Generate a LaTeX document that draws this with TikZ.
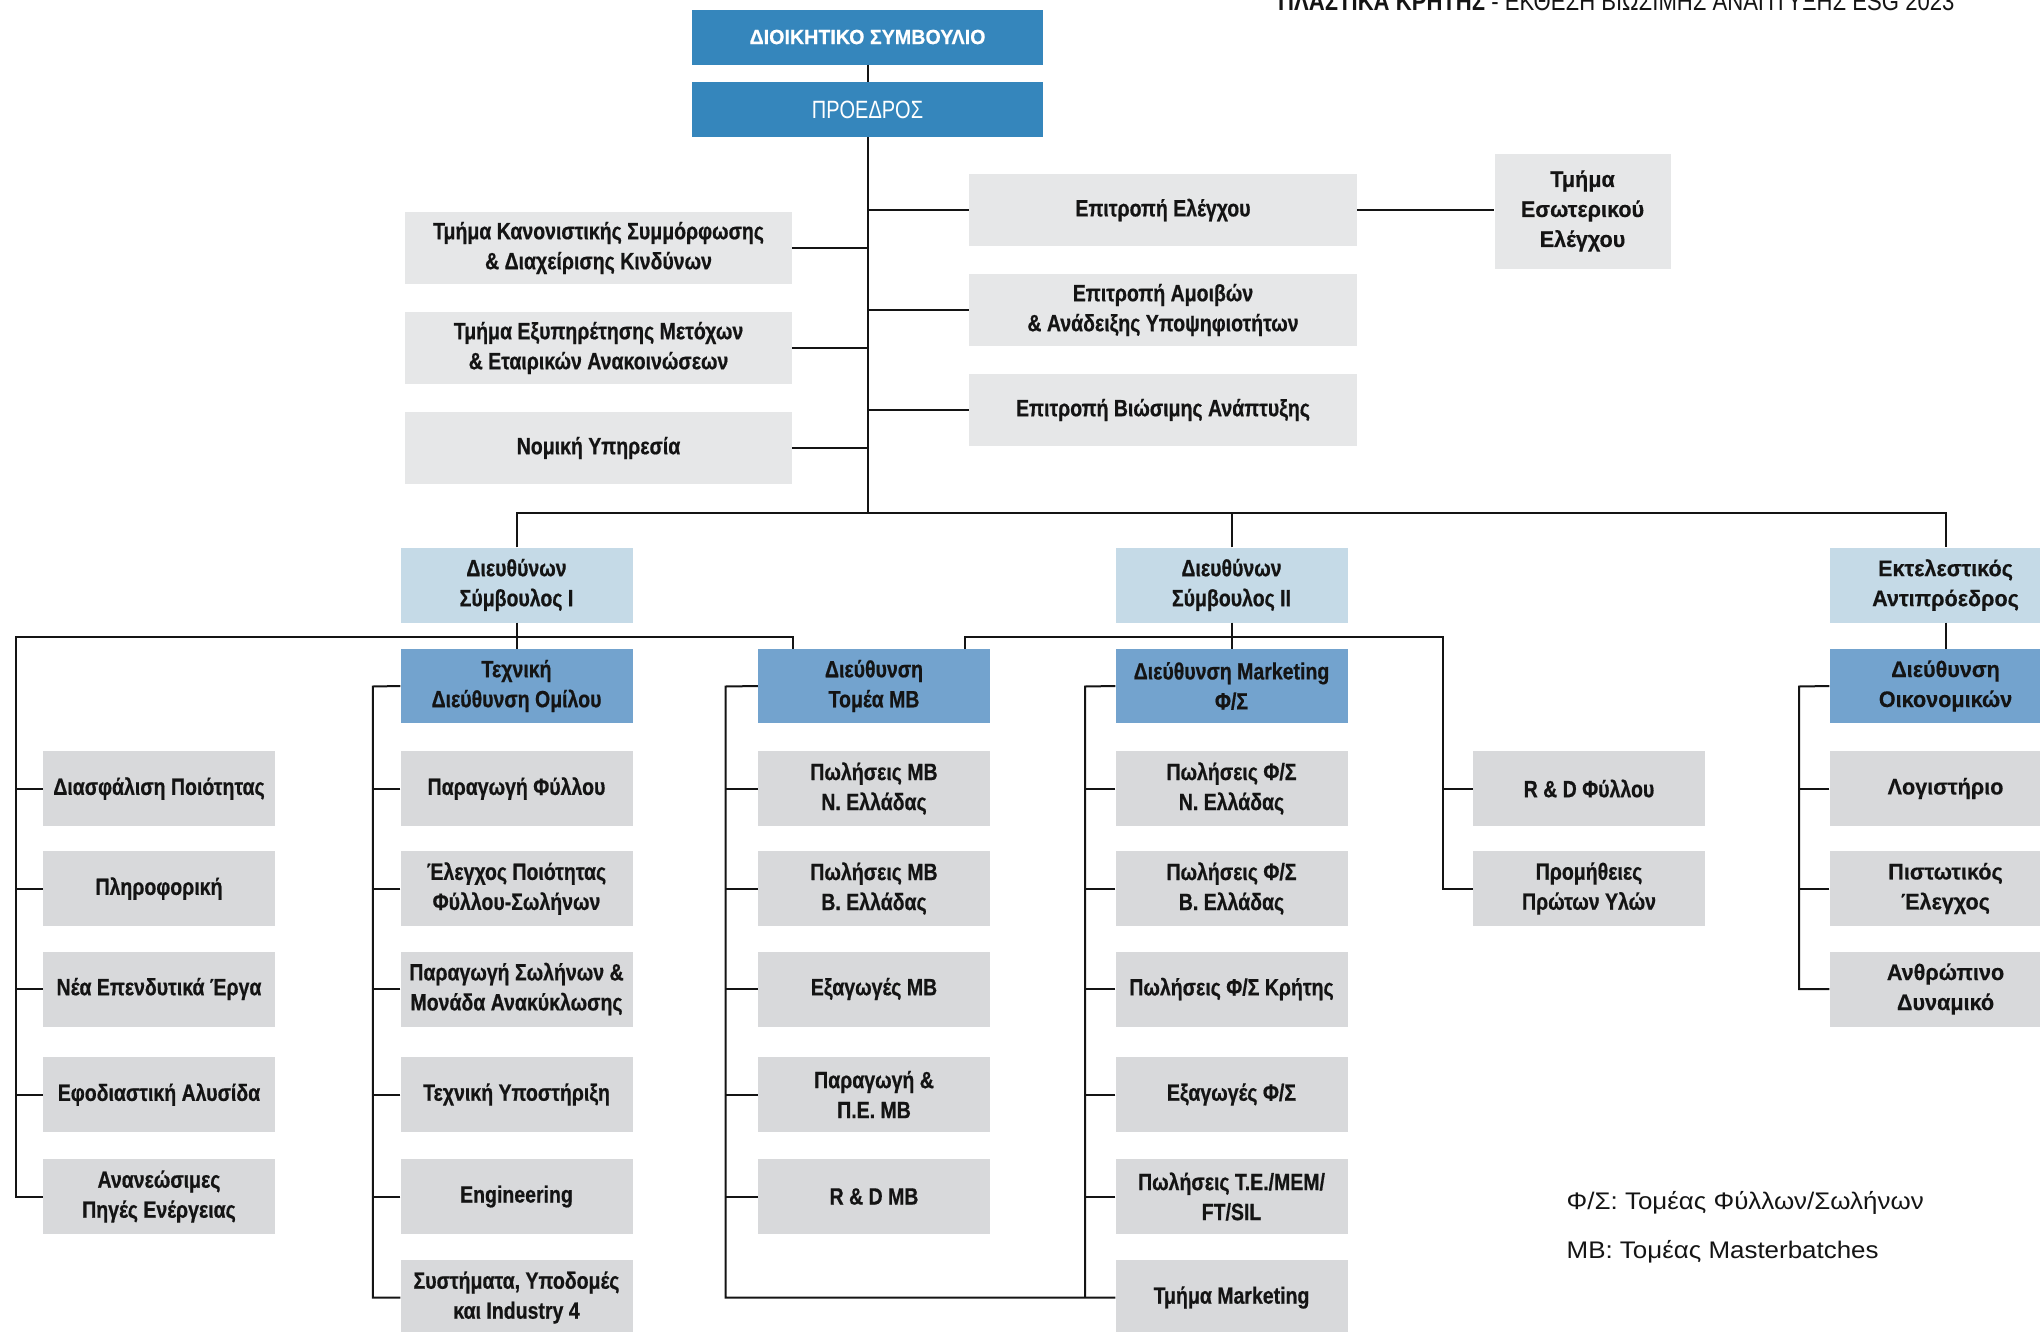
\documentclass[tikz,border=0pt]{standalone}
\usepackage{fontspec}
\setmainfont{Liberation Sans}
\newfontfamily\condfont[FakeStretch=0.8]{Liberation Sans}
\newfontfamily\headfont[FakeStretch=0.85]{Liberation Sans}
\newfontfamily\boxfont[FakeStretch=0.83,BoldFeatures={FakeBold=0.6}]{Liberation Sans}
\newfontfamily\widefont[FakeStretch=0.96,BoldFeatures={FakeBold=0.4}]{Liberation Sans}
\newfontfamily\legfont[FakeStretch=1.08]{Liberation Sans}
\definecolor{blueD}{HTML}{3586BC}
\definecolor{blueL}{HTML}{C5DAE7}
\definecolor{blueM}{HTML}{73A3CE}
\definecolor{grayU}{HTML}{E6E7E8}
\definecolor{grayL}{HTML}{D8D9DB}
\definecolor{txt}{HTML}{141414}
\begin{document}
\begin{tikzpicture}[x=1pt,y=-1pt,
  box/.style={draw=none, align=center, inner sep=0pt, text=txt,
    font=\boxfont\fontsize{23.5}{30}\selectfont\bfseries},
  widetext/.style={font=\widefont\fontsize{22.5}{30}\selectfont\bfseries},
  topbox/.style={box, fill=blueD, text=white, minimum width=351pt, minimum height=55pt},
  upbox/.style={box, fill=grayU, minimum width=387pt, minimum height=72pt},
  ceobox/.style={box, fill=blueL, minimum width=232pt, minimum height=75pt},
  dirbox/.style={box, fill=blueM, minimum width=232pt, minimum height=74pt},
  unitbox/.style={box, fill=grayL, minimum width=232pt, minimum height=75pt},
  legend/.style={anchor=base west, inner sep=0pt, text=txt, font=\legfont\fontsize{24}{28}\selectfont},
  conn/.style={line width=2pt, draw=black!92}]
\useasboundingbox (0,0) rectangle (2040,1331);
\fill[white] (0,0) rectangle (2040,1331);

% header
\node[anchor=base west, inner sep=0pt, text=txt, font=\headfont\fontsize{26}{30}\selectfont] (hdr) at (1278,10)
  {\textbf{ΠΛΑΣΤΙΚΑ ΚΡΗΤΗΣ} - ΕΚΘΕΣΗ ΒΙΩΣΙΜΗΣ ΑΝΑΠΤΥΞΗΣ ESG 2023};

% top
\node[topbox, font=\widefont\fontsize{20.5}{24}\selectfont\bfseries] (ds) at (867.5,37) {ΔΙΟΙΚΗΤΙΚΟ ΣΥΜΒΟΥΛΙΟ};
\node[topbox, font=\condfont\fontsize{25}{30}\selectfont] (pr) at (867.5,109.5) {ΠΡΟΕΔΡΟΣ};

\node[upbox] (l1) at (598.5,248) {Τμήμα Κανονιστικής Συμμόρφωσης\\\& Διαχείρισης Κινδύνων};
\node[upbox] (l2) at (598.5,348) {Τμήμα Εξυπηρέτησης Μετόχων\\\& Εταιρικών Ανακοινώσεων};
\node[upbox] (l3) at (598.5,448) {Νομική Υπηρεσία};

\node[upbox, minimum width=388pt] (r1) at (1163,210) {Επιτροπή Ελέγχου};
\node[upbox, minimum width=388pt] (r2) at (1163,310) {Επιτροπή Αμοιβών\\\& Ανάδειξης Υποψηφιοτήτων};
\node[upbox, minimum width=388pt] (r3) at (1163,410) {Επιτροπή Βιώσιμης Ανάπτυξης};

\node[upbox, widetext, minimum width=176pt, minimum height=115pt] (int) at (1582.5,211) {Τμήμα\\Εσωτερικού\\Ελέγχου};

% CEOs
\node[ceobox] (ceo1) at (516.5,585) {Διευθύνων\\Σύμβουλος Ι};
\node[ceobox] (ceo2) at (1231.5,585) {Διευθύνων\\Σύμβουλος ΙΙ};
\node[ceobox, widetext] (vp) at (1945.5,585) {Εκτελεστικός\\Αντιπρόεδρος};

% directorates
\node[dirbox] (tech) at (516.5,686) {Τεχνική\\Διεύθυνση Ομίλου};
\node[dirbox] (mbdir) at (874,686) {Διεύθυνση\\Τομέα MB};
\node[dirbox] (mkt) at (1231.5,686) {Διεύθυνση Marketing\\Φ/Σ};
\node[dirbox, widetext] (fin) at (1945.5,686) {Διεύθυνση\\Οικονομικών};

% column A
\node[unitbox] (a1) at (159,788.5) {Διασφάλιση Ποιότητας};
\node[unitbox] (a2) at (159,888.5) {Πληροφορική};
\node[unitbox] (a3) at (159,989) {Νέα Επενδυτικά Έργα};
\node[unitbox] (a4) at (159,1094.5) {Εφοδιαστική Αλυσίδα};
\node[unitbox] (a5) at (159,1196.5) {Ανανεώσιμες\\Πηγές Ενέργειας};

% column B
\node[unitbox] (b1) at (516.5,788.5) {Παραγωγή Φύλλου};
\node[unitbox] (b2) at (516.5,888.5) {Έλεγχος Ποιότητας\\Φύλλου-Σωλήνων};
\node[unitbox] (b3) at (516.5,989) {Παραγωγή Σωλήνων \&\\Μονάδα Ανακύκλωσης};
\node[unitbox] (b4) at (516.5,1094.5) {Τεχνική Υποστήριξη};
\node[unitbox] (b5) at (516.5,1196.5) {Engineering};
\node[unitbox] (b6) at (516.5,1297.5) {Συστήματα, Υποδομές\\και Industry 4};

% column C
\node[unitbox] (c1) at (874,788.5) {Πωλήσεις MB\\Ν. Ελλάδας};
\node[unitbox] (c2) at (874,888.5) {Πωλήσεις MB\\Β. Ελλάδας};
\node[unitbox] (c3) at (874,989) {Εξαγωγές MB};
\node[unitbox] (c4) at (874,1094.5) {Παραγωγή \&\\Π.Ε. MB};
\node[unitbox] (c5) at (874,1196.5) {R \& D MB};

% column D
\node[unitbox] (d1) at (1231.5,788.5) {Πωλήσεις Φ/Σ\\Ν. Ελλάδας};
\node[unitbox] (d2) at (1231.5,888.5) {Πωλήσεις Φ/Σ\\Β. Ελλάδας};
\node[unitbox] (d3) at (1231.5,989) {Πωλήσεις Φ/Σ Κρήτης};
\node[unitbox] (d4) at (1231.5,1094.5) {Εξαγωγές Φ/Σ};
\node[unitbox] (d5) at (1231.5,1196.5) {Πωλήσεις Τ.Ε./ΜΕΜ/\\FT/SIL};
\node[unitbox] (d6) at (1231.5,1297.5) {Τμήμα Marketing};

% column E
\node[unitbox] (e1) at (1589,788.5) {R \& D Φύλλου};
\node[unitbox] (e2) at (1589,888.5) {Προμήθειες\\Πρώτων Υλών};

% column F
\node[unitbox, widetext] (f1) at (1945.5,788.5) {Λογιστήριο};
\node[unitbox, widetext] (f2) at (1945.5,888.5) {Πιστωτικός\\Έλεγχος};
\node[unitbox, widetext] (f3) at (1945.5,989) {Ανθρώπινο\\Δυναμικό};

% legend
\node[legend] (lg1) at (1566.5,1209) {Φ/Σ: Τομέας Φύλλων/Σωλήνων};
\node[legend] (lg2) at (1566.5,1258) {MB: Τομέας Masterbatches};

% coordinates
\coordinate (tb) at (867.5,512.6);
\coordinate (aL) at (15.6,636.7);
\coordinate (aR) at (792.5,636.7);
\coordinate (cL) at (964.7,636.7);
\coordinate (cR) at (1443,636.7);
\coordinate (tk) at (372.8,686.5);
\coordinate (mk) at (725.5,686.5);
\coordinate (kk) at (1085,686.5);
\coordinate (fk) at (1799,686.5);

% connectors top
\draw[conn] (ds) -- (pr);
\draw[conn] (pr.south) -- (tb);
\foreach \n in {l1,l2,l3} \draw[conn] (\n.east) -- (\n.east -| tb);
\foreach \n in {r1,r2,r3} \draw[conn] (\n.west) -- (\n.west -| tb);
\draw[conn] (r1.east) -- (r1.east -| int.west);
\draw[conn] (ceo1.north) -- (ceo1.north |- tb) -- (vp.north |- tb) -- (vp.north);
\draw[conn] (ceo2.north) -- (ceo2.north |- tb);

% CEO I
\draw[conn] (ceo1.south) -- (tech.north);
\draw[conn] (a5.west) -| (aL) -- (aR) -- (aR |- mbdir.north);
\foreach \n in {a1,a2,a3,a4} \draw[conn] (\n.west) -- (\n.west -| aL);

% CEO II
\draw[conn] (ceo2.south) -- (mkt.north);
\draw[conn] (cL |- mbdir.north) -- (cL) -- (cR) |- (e2.west);
\draw[conn] (e1.west) -- (e1.west -| cR);

% VP
\draw[conn] (vp.south) -- (fin.north);

% brackets
\draw[conn] (tech.west) -- (tk) |- (b6.west);
\foreach \n in {b1,b2,b3,b4,b5} \draw[conn] (\n.west) -- (\n.west -| tk);
\draw[conn] (mbdir.west) -- (mk) |- (d6.west);
\foreach \n in {c1,c2,c3,c4,c5} \draw[conn] (\n.west) -- (\n.west -| mk);
\draw[conn] (mkt.west) -- (kk) -- (kk |- d6.west);
\foreach \n in {d1,d2,d3,d4,d5} \draw[conn] (\n.west) -- (\n.west -| kk);
\draw[conn] (fin.west) -- (fk) |- (f3.west);
\foreach \n in {f1,f2} \draw[conn] (\n.west) -- (\n.west -| fk);
\end{tikzpicture}
\end{document}
